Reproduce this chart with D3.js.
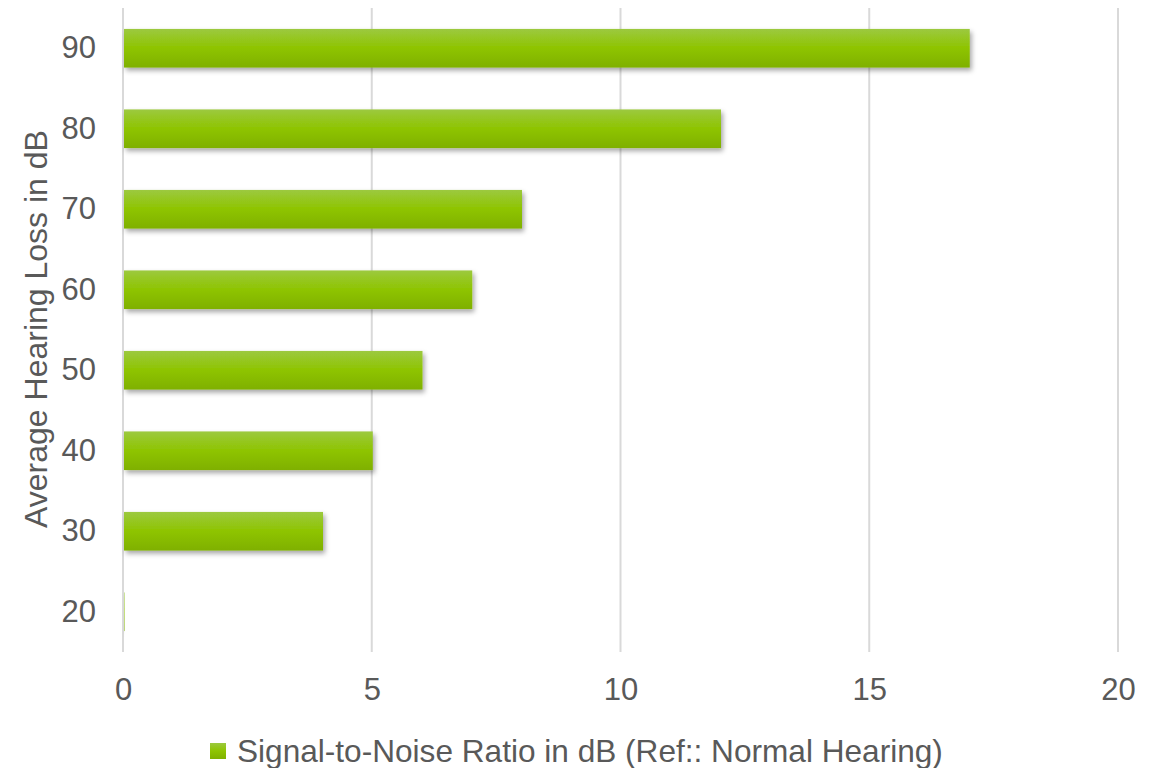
<!DOCTYPE html>
<html>
<head>
<meta charset="utf-8">
<script src="https://cdn.jsdelivr.net/npm/d3@7"></script>
<style>
  body { margin: 0; background: #fff; }
  text { font-family: "Liberation Sans", Arial, sans-serif; fill: #595959; }
</style>
</head>
<body>
<svg id="chart"></svg>
<script>
// hearing loss categories (bottom to top) and SNR values
const categories = ["20", "30", "40", "50", "60", "70", "80", "90"];
const snrValues = [0, 4, 5, 6, 7, 8, 12, 17];
const xTicks = [0, 5, 10, 15, 20];
const seriesName = "Signal-to-Noise Ratio in dB (Ref:: Normal Hearing)";
const axisTitle = "Average Hearing Loss in dB";

const width = 1165, height = 768;
const margin = { top: 8, right: 47, bottom: 116, left: 123 };
const fontSize = 31;

const svg = d3.select("#chart").attr("width", width).attr("height", height);

const defs = svg.append("defs");
const grad = defs.append("linearGradient")
  .attr("id", "barGrad").attr("x1", 0).attr("y1", 0).attr("x2", 0).attr("y2", 1);
grad.append("stop").attr("offset", "0%").attr("stop-color", "#9cc93f");
grad.append("stop").attr("offset", "50%").attr("stop-color", "#8ec400");
grad.append("stop").attr("offset", "100%").attr("stop-color", "#7fb000");

const shadow = defs.append("filter").attr("id", "shadow")
  .attr("x", "-5%").attr("y", "-30%").attr("width", "115%").attr("height", "180%");
shadow.append("feDropShadow")
  .attr("dx", 2).attr("dy", 3).attr("stdDeviation", 2.5)
  .attr("flood-color", "#000").attr("flood-opacity", 0.35);

const x = d3.scaleLinear().domain([0, 20]).range([margin.left, width - margin.right]);
const y = d3.scaleBand().domain(categories)
  .range([height - margin.bottom, margin.top])
  .paddingInner(0.52).paddingOuter(0.26);

// gridlines
svg.append("g")
  .selectAll("line")
  .data(xTicks)
  .join("line")
  .attr("x1", d => x(d)).attr("x2", d => x(d))
  .attr("y1", margin.top).attr("y2", height - margin.bottom)
  .attr("stroke", "#d9d9d9").attr("stroke-width", 2);

// bars
svg.append("g")
  .selectAll("rect")
  .data(categories)
  .join("rect")
  .attr("x", x(0) + 1)
  .attr("y", d => y(d))
  .attr("width", (d, i) => Math.max(0.5, x(snrValues[i]) - x(0)))
  .attr("height", y.bandwidth())
  .attr("fill", "url(#barGrad)")
  .attr("filter", "url(#shadow)");

// x axis labels
const xAxis = svg.append("g")
  .attr("transform", `translate(0,${height - margin.bottom})`)
  .call(d3.axisBottom(x).tickValues(xTicks).tickSize(0).tickPadding(26));
xAxis.select(".domain").remove();
xAxis.selectAll("text")
  .attr("font-size", fontSize).attr("font-family", null).attr("fill", null);

// y axis labels
const yAxis = svg.append("g")
  .attr("transform", `translate(${margin.left},0)`)
  .call(d3.axisLeft(y).tickSize(0).tickPadding(27));
yAxis.select(".domain").remove();
yAxis.selectAll("text")
  .attr("font-size", fontSize).attr("font-family", null).attr("fill", null);

// y axis title
svg.append("text")
  .attr("transform", "translate(47,329) rotate(-90)")
  .attr("text-anchor", "middle")
  .attr("font-size", 32)
  .text(axisTitle);

// legend
const legend = svg.append("g").attr("transform", "translate(210,751)");
legend.append("rect")
  .attr("x", 0).attr("y", -8).attr("width", 16).attr("height", 16)
  .attr("fill", "url(#barGrad)");
legend.append("text")
  .attr("x", 27).attr("dy", "0.35em")
  .attr("font-size", 31.6)
  .text(seriesName);
</script>
</body>
</html>
